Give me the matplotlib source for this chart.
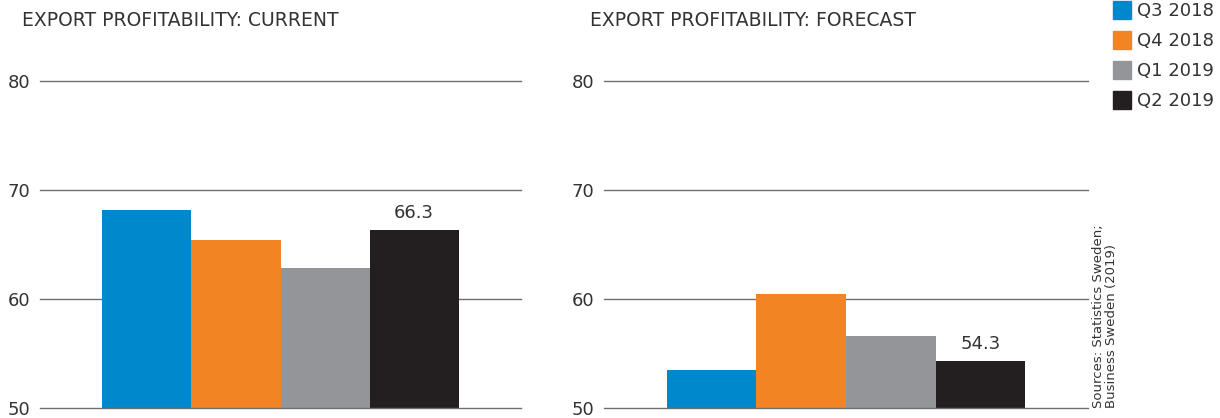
import matplotlib.pyplot as plt
from matplotlib.patches import Rectangle

plt.rcParams['font.family'] = ['DejaVu Sans']

quarters = ["Q3 2018", "Q4 2018", "Q1 2019", "Q2 2019"]
current = [68.2, 65.4, 62.8, 66.3]
forecast = [53.5, 60.5, 56.6, 54.3]
colors = ["#0088cc", "#f28423", "#939598", "#231f20"]
titles = ["EXPORT PROFITABILITY: CURRENT", "EXPORT PROFITABILITY: FORECAST"]
yticks = [50, 60, 70, 80]
txt = "#333333"
fs = 13

fig = plt.figure(figsize=(12.2, 4.18), dpi=100)
ax1 = fig.add_axes([40 / 1220, 10 / 418, 481 / 1220, 327 / 418])
ax2 = fig.add_axes([604 / 1220, 10 / 418, 484 / 1220, 327 / 418])

for ax, vals, title, tx in [(ax1, current, titles[0], 22), (ax2, forecast, titles[1], 590)]:
    x = list(range(len(vals)))
    ax.bar(x, [v - 50 for v in vals], bottom=50, width=1.0, color=colors, zorder=2)
    ax.set_ylim(50, 80)
    ax.set_xlim(-1.2, 4.2)
    ax.set_yticks(yticks)
    ax.set_xticks([])
    for y in yticks:
        ax.axhline(y, color="#6d6e71", lw=1.0, zorder=3 if y == 50 else 1, clip_on=False)
    for s in ax.spines.values():
        s.set_visible(False)
    ax.tick_params(axis="y", length=0, pad=7, labelsize=fs, labelcolor=txt)
    ax.annotate(f"{vals[-1]:.1f}", (x[-1], vals[-1]), xytext=(0, 6),
                textcoords="offset points", ha="center", va="bottom",
                fontsize=fs, color=txt)
    fig.text(tx / 1220, 1 - 20 / 418, title, fontsize=13.5, color=txt,
             ha="left", va="center")

# legend
for i, (q, c) in enumerate(zip(quarters, colors)):
    ytop = 1 + 30 * i
    fig.patches.append(Rectangle((1113 / 1220, 1 - (ytop + 18) / 418), 18 / 1220, 18 / 418,
                                 transform=fig.transFigure, color=c, figure=fig))
    fig.text(1137 / 1220, 1 - (ytop + 10) / 418, q, fontsize=fs, color=txt,
             ha="left", va="center")

fig.text(1105 / 1220, 10 / 418, "Sources: Statistics Sweden;\nBusiness Sweden (2019)",
         rotation=90, fontsize=9.5, color=txt, ha="center", va="bottom",
         linespacing=1.0, multialignment="left")

plt.savefig("out.png", dpi=100)
